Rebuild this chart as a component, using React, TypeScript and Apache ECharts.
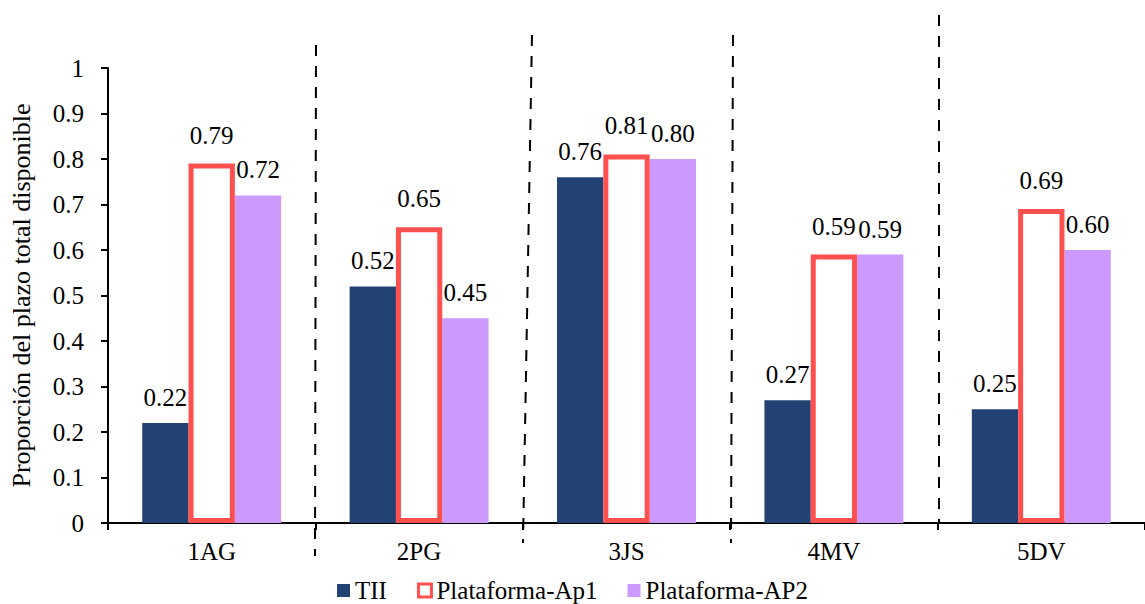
import React, { useEffect, useRef } from "react";
import * as echarts from "echarts";

// Category labels and the three series (proportion of total time available)
const categories = ["1AG", "2PG", "3JS", "4MV", "5DV"];
const tiiValues = [0.22, 0.52, 0.76, 0.27, 0.25];
const ap1Values = [0.79, 0.65, 0.81, 0.59, 0.69];
const ap2Values = [0.72, 0.45, 0.8, 0.59, 0.6];
const seriesNames = ["TII", "Plataforma-Ap1", "Plataforma-AP2"];

const FONT = "'Liberation Serif', 'Times New Roman', serif";
const NAVY = "#234274";
const RED = "#FF5050";
const PURPLE = "#CC99FF";

// Layout of the plotting area
const GRID_LEFT = 107;
const GRID_TOP = 68;
const GRID_BOTTOM = 81;
const GRID_WIDTH = 1040;

// Hand-drawn dashed separators between groups: slight slant offsets and extents
const separators = [
  { dxTop: 1, dxBottom: 0, top: 45, bottom: 556 },
  { dxTop: 9, dxBottom: 0, top: 35, bottom: 543 },
  { dxTop: 2, dxBottom: 0, top: 35, bottom: 543 },
  { dxTop: 0, dxBottom: 0, top: 15, bottom: 522 },
];

export default function App() {
  const ref = useRef<HTMLDivElement>(null);

  useEffect(() => {
    if (!ref.current) return;
    const chart = echarts.init(ref.current, null, { renderer: "svg" });

    const band = GRID_WIDTH / categories.length;
    const sepGraphics = separators.map((s, i) => {
      const bx = GRID_LEFT + band * (i + 1);
      return {
        type: "line",
        z: 100,
        shape: { x1: bx + s.dxTop, y1: s.top, x2: bx + s.dxBottom, y2: s.bottom },
        style: { stroke: "#000", lineWidth: 2, lineDash: [11, 10] },
      };
    });

    const label = {
      show: true,
      position: "top",
      distance: 13,
      color: "#000",
      fontFamily: FONT,
      fontSize: 25,
      formatter: (p: any) => Number(p.value).toFixed(2),
    };

    chart.setOption({
      animation: false,
      backgroundColor: "#fff",
      textStyle: { fontFamily: FONT, color: "#000" },
      grid: {
        left: GRID_LEFT,
        top: GRID_TOP,
        bottom: GRID_BOTTOM,
        width: GRID_WIDTH,
        containLabel: false,
      },
      legend: {
        left: "center",
        top: 573,
        itemWidth: 13,
        itemHeight: 13,
        itemGap: 30,
        icon: "rect",
        textStyle: { fontFamily: FONT, fontSize: 25, color: "#000" },
        data: [
          { name: seriesNames[0] },
          {
            name: seriesNames[1],
            itemStyle: { color: "#fff", borderColor: RED, borderWidth: 3 },
          },
          { name: seriesNames[2] },
        ],
      },
      xAxis: {
        type: "category",
        data: categories,
        axisLine: { lineStyle: { color: "#000", width: 2 } },
        axisTick: { show: true, length: 7, lineStyle: { color: "#000", width: 2 } },
        axisLabel: { color: "#000", fontFamily: FONT, fontSize: 25, margin: 16 },
        splitLine: { show: false },
      },
      yAxis: {
        type: "value",
        min: 0,
        max: 1,
        interval: 0.1,
        name: "Proporción del plazo total disponible",
        nameLocation: "middle",
        nameGap: 74,
        nameTextStyle: { fontFamily: FONT, fontSize: 26, color: "#000" },
        axisLine: { show: true, lineStyle: { color: "#000", width: 2 } },
        axisTick: { show: true, length: 7, lineStyle: { color: "#000", width: 2 } },
        axisLabel: {
          color: "#000",
          fontFamily: FONT,
          fontSize: 25,
          margin: 24,
          formatter: (v: number) => String(Math.round(v * 10) / 10),
        },
        splitLine: { show: false },
      },
      series: [
        {
          name: seriesNames[0],
          type: "bar",
          data: tiiValues,
          barGap: "0%",
          barCategoryGap: "33%",
          itemStyle: { color: NAVY },
          label,
          z: 2,
        },
        {
          name: seriesNames[1],
          type: "bar",
          data: ap1Values,
          barGap: "0%",
          barCategoryGap: "33%",
          itemStyle: { color: "#fff", borderColor: RED, borderWidth: 5 },
          label: { ...label, distance: 16 },
          z: 4,
        },
        {
          name: seriesNames[2],
          type: "bar",
          data: ap2Values,
          barGap: "0%",
          barCategoryGap: "33%",
          itemStyle: { color: PURPLE },
          label,
          z: 2,
        },
      ],
      graphic: sepGraphics,
    });

    return () => chart.dispose();
  }, []);

  return (
    <div
      ref={ref}
      style={{ position: "fixed", left: 0, top: 0, width: 1145, height: 604, background: "#fff" }}
    />
  );
}
